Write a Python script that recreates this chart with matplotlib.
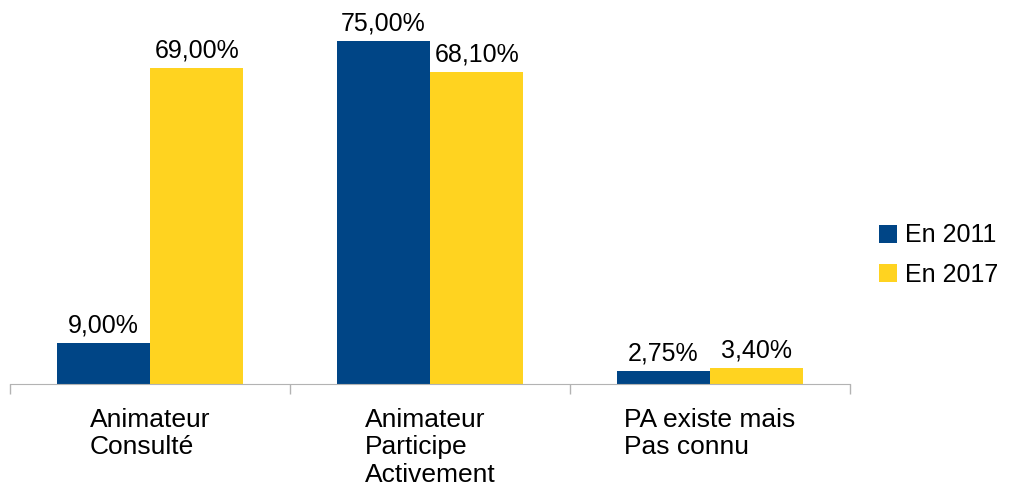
import matplotlib
matplotlib.use("Agg")
import matplotlib.pyplot as plt
import numpy as np

plt.rcParams['font.family'] = ['Liberation Sans', 'DejaVu Sans']

# data
categories = ["Animateur\nConsulté", "Animateur\nParticipe\nActivement", "PA existe mais\nPas connu"]
vals_2011 = [9.00, 75.00, 2.75]
vals_2017 = [69.00, 68.10, 3.40]
series_names = ["En 2011", "En 2017"]
colors = ["#004586", "#ffd320"]

fig = plt.figure(figsize=(10.09, 4.92), dpi=100)
ax = fig.add_axes([10 / 1009, 108 / 492, 840 / 1009, 366 / 492])

x = np.arange(len(categories))
w = 1 / 3
b1 = ax.bar(x - w / 2, vals_2011, w, color=colors[0], label=series_names[0])
b2 = ax.bar(x + w / 2, vals_2017, w, color=colors[1], label=series_names[1])

def fmt(v):
    return ("%.2f%%" % v).replace(".", ",")

for bars, vals in ((b1, vals_2011), (b2, vals_2017)):
    for r, v in zip(bars, vals):
        ax.annotate(fmt(v), (r.get_x() + r.get_width() / 2, v),
                    xytext=(0, 4), textcoords="offset points",
                    ha="center", va="bottom", fontsize=18)

ax.set_xlim(-0.5, len(categories) - 0.5)
ax.set_ylim(0, 80)
for s in ("top", "right", "left"):
    ax.spines[s].set_visible(False)
ax.spines["bottom"].set_color("#b3b3b3")
ax.set_yticks([])

ax.set_xticks(x)
ax.set_xticklabels(categories, fontsize=19, multialignment="left")
ax.tick_params(axis="x", which="major", length=0, pad=17)
ax.set_xticks(np.arange(len(categories) + 1) - 0.5, minor=True)
ax.tick_params(axis="x", which="minor", length=7, color="#b3b3b3", width=1)

fig.legend(handles=[b1, b2], loc="center left", bbox_to_anchor=(879 / 1009, 1 - 255 / 492),
           frameon=False, fontsize=18, handlelength=0.7, handleheight=0.7,
           handletextpad=0.35, labelspacing=0.6, borderpad=0, borderaxespad=0)

fig.savefig("out.png", dpi=100)
